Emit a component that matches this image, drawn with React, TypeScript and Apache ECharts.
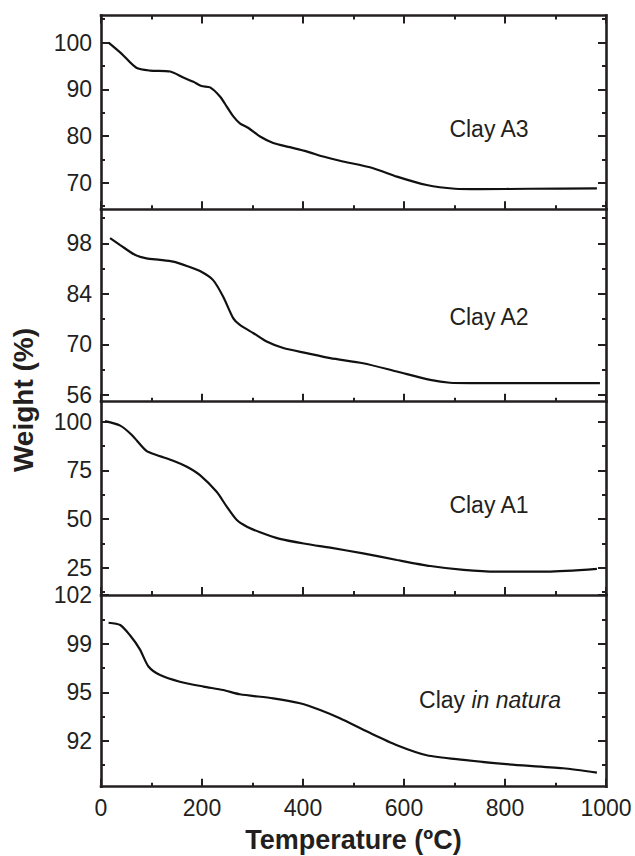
import React, { useEffect, useRef } from "react";
import * as echarts from "echarts";

// ---- data ----
const a3Temp = [15, 40, 70, 97, 137, 163, 183, 199, 216, 236, 249, 262, 275, 292, 315, 341, 374, 407, 440, 473, 539, 586, 645, 701, 750, 850, 982];
const a3Weight = [100, 97.7, 94.6, 94.0, 93.8, 92.5, 91.6, 90.7, 90.4, 88.4, 86.3, 84.2, 82.7, 81.7, 79.9, 78.5, 77.6, 76.7, 75.6, 74.7, 73.1, 71.3, 69.5, 68.7, 68.6, 68.7, 68.8];

const a2Temp = [18, 38, 67, 90, 117, 143, 170, 196, 222, 242, 262, 275, 302, 328, 361, 407, 454, 519, 586, 652, 691, 731, 988];
const a2Weight = [99.4, 97.5, 94.8, 93.8, 93.4, 92.9, 91.7, 90.3, 87.8, 83.2, 77.2, 75.4, 73.1, 70.8, 69.0, 67.6, 66.2, 64.8, 62.5, 60.2, 59.4, 59.3, 59.3];

const a1Temp = [8, 38, 61, 90, 110, 143, 170, 196, 229, 249, 269, 289, 315, 354, 407, 454, 519, 586, 652, 718, 783, 883, 982];
const a1Weight = [100.3, 98, 93.2, 85, 82.9, 80, 76.9, 72.6, 64, 56.4, 49.5, 46.1, 43.2, 39.8, 37.2, 35.3, 32.4, 29.0, 25.9, 23.9, 23.0, 23.0, 24.4];

const natTemp = [15, 38, 57, 77, 94, 117, 156, 203, 242, 275, 341, 394, 434, 473, 530, 586, 645, 718, 797, 915, 982];
const natWeight = [100.06, 99.9, 99.2, 98.2, 97.0, 96.4, 95.94, 95.6, 95.36, 95.06, 94.78, 94.43, 93.96, 93.38, 92.4, 91.5, 90.8, 90.47, 90.19, 89.89, 89.58];

// y ranges and ticks per panel (top to bottom)
const yMins = [64.3, 54.15, 11, 88.6];
const yMaxs = [105.8, 107.4, 110.3, 102];
const yMajor = [
  [70, 80, 90, 100],
  [56, 70, 84, 98],
  [25, 50, 75, 100],
  [91.8, 95.2, 98.6, 102],
];
const yMinor = [
  [65, 75, 85, 95, 105],
  [63, 77, 91, 105],
  [12.5, 37.5, 62.5, 87.5],
  [90.1, 93.5, 96.9, 100.3],
];
const xTicks = [0, 200, 400, 600, 800, 1000];
const panelNames = ["Clay A3", "Clay A2", "Clay A1", "Clay in natura"];

const INK = "#231f20";
const FONT = "'Liberation Sans', Arial, Helvetica, sans-serif";

export default function App() {
  const ref = useRef<HTMLDivElement>(null);

  useEffect(() => {
    document.body.style.margin = "0";
    if (!ref.current) return;
    const chart = echarts.init(ref.current, null, { renderer: "svg" });

    const series = [
      [a3Temp, a3Weight],
      [a2Temp, a2Weight],
      [a1Temp, a1Weight],
      [natTemp, natWeight],
    ];

    const tops = [15.5, 209.3, 401.7, 595];
    const heights = [193.8, 192.4, 193.3, 191.7];

    const grids = tops.map((t, i) => ({ left: 101, width: 505, top: t, height: heights[i] }));

    const axisLine = { show: true, lineStyle: { color: INK, width: 2.6, cap: "square" } };

    const xAxes: any[] = [];
    grids.forEach((_, i) => {
      xAxes.push({
        type: "value",
        gridIndex: i,
        position: "bottom",
        min: 0,
        max: 1000,
        interval: 200,
        axisLine,
        axisTick: { show: true, inside: true, length: 8, lineStyle: { color: INK, width: 2 } },
        minorTick: { show: true, splitNumber: 2, length: 4, lineStyle: { color: INK, width: 2 } },
        axisLabel: {
          show: i === 3,
          margin: 10,
          fontSize: 23,
          color: INK,
          fontFamily: FONT,
          customValues: xTicks,
          formatter: (v: number) => String(v),
        },
        splitLine: { show: false },
        minorSplitLine: { show: false },
      });
    });
    // top border of first panel
    xAxes.push({
      type: "value",
      gridIndex: 0,
      position: "top",
      min: 0,
      max: 1000,
      interval: 200,
      axisLine,
      axisTick: { show: true, inside: true, length: 8, lineStyle: { color: INK, width: 2 } },
      minorTick: { show: true, splitNumber: 2, length: 4, lineStyle: { color: INK, width: 2 } },
      axisLabel: { show: false },
      splitLine: { show: false },
    });

    const yAxes: any[] = [];
    grids.forEach((_, i) => {
      const base = { type: "value", gridIndex: i, min: yMins[i], max: yMaxs[i], splitLine: { show: false } };
      // left major (data axis)
      yAxes.push({
        ...base,
        position: "left",
        axisLine,
        axisTick: { show: true, inside: true, length: 8, customValues: yMajor[i], lineStyle: { color: INK, width: 2 } },
        axisLabel: {
          show: true,
          customValues: yMajor[i],
          margin: 9,
          fontSize: 23,
          color: INK,
          fontFamily: FONT,
          formatter: (v: number) => String(Math.round(v)),
        },
      });
      // left minor
      yAxes.push({
        ...base,
        position: "left",
        axisLine: { show: false },
        axisTick: { show: true, inside: true, length: 4, customValues: yMinor[i], lineStyle: { color: INK, width: 2 } },
        axisLabel: { show: false },
      });
      // right major
      yAxes.push({
        ...base,
        position: "right",
        axisLine,
        axisTick: { show: true, inside: true, length: 8, customValues: yMajor[i], lineStyle: { color: INK, width: 2 } },
        axisLabel: { show: false },
      });
      // right minor
      yAxes.push({
        ...base,
        position: "right",
        axisLine: { show: false },
        axisTick: { show: true, inside: true, length: 4, customValues: yMinor[i], lineStyle: { color: INK, width: 2 } },
        axisLabel: { show: false },
      });
    });

    const lineSeries = series.map(([tx, wy], i) => ({
      type: "line",
      xAxisIndex: i,
      yAxisIndex: i * 4,
      data: tx.map((t, k) => [t, wy[k]]),
      showSymbol: false,
      symbol: "none",
      smooth: 0.25,
      lineStyle: { color: "#111", width: 2.2 },
      silent: true,
    }));

    const labelY = [128.7, 316.7, 505, 700];
    const textStyleBase = { fontSize: 23, fontFamily: FONT, fill: INK, align: "center", verticalAlign: "middle" };
    const graphics: any[] = panelNames.map((name, i) => {
      if (i === 3) {
        return {
          type: "text",
          x: 490,
          y: labelY[i],
          style: {
            text: "{n|Clay }{i|in natura}",
            align: "center",
            verticalAlign: "middle",
            rich: {
              n: { fontSize: 23, fontFamily: FONT, fill: INK },
              i: { fontSize: 23, fontFamily: FONT, fill: INK, fontStyle: "italic" },
            },
          },
        };
      }
      return { type: "text", x: 489, y: labelY[i], style: { ...textStyleBase, text: name } };
    });
    graphics.push({
      type: "text",
      x: 353.5,
      y: 840,
      style: { text: "Temperature (ºC)", fontSize: 27, fontWeight: "bold", fontFamily: FONT, fill: INK, align: "center", verticalAlign: "middle" },
    });
    graphics.push({
      type: "text",
      x: 23,
      y: 400,
      rotation: Math.PI / 2,
      style: { text: "Weight (%)", fontSize: 28, fontWeight: "bold", fontFamily: FONT, fill: INK, align: "center", verticalAlign: "middle" },
    });

    chart.setOption({
      animation: false,
      backgroundColor: "#ffffff",
      grid: grids,
      xAxis: xAxes,
      yAxis: yAxes,
      series: lineSeries,
      graphic: graphics,
    });

    return () => chart.dispose();
  }, []);

  return <div ref={ref} style={{ width: 635, height: 856 }} />;
}
